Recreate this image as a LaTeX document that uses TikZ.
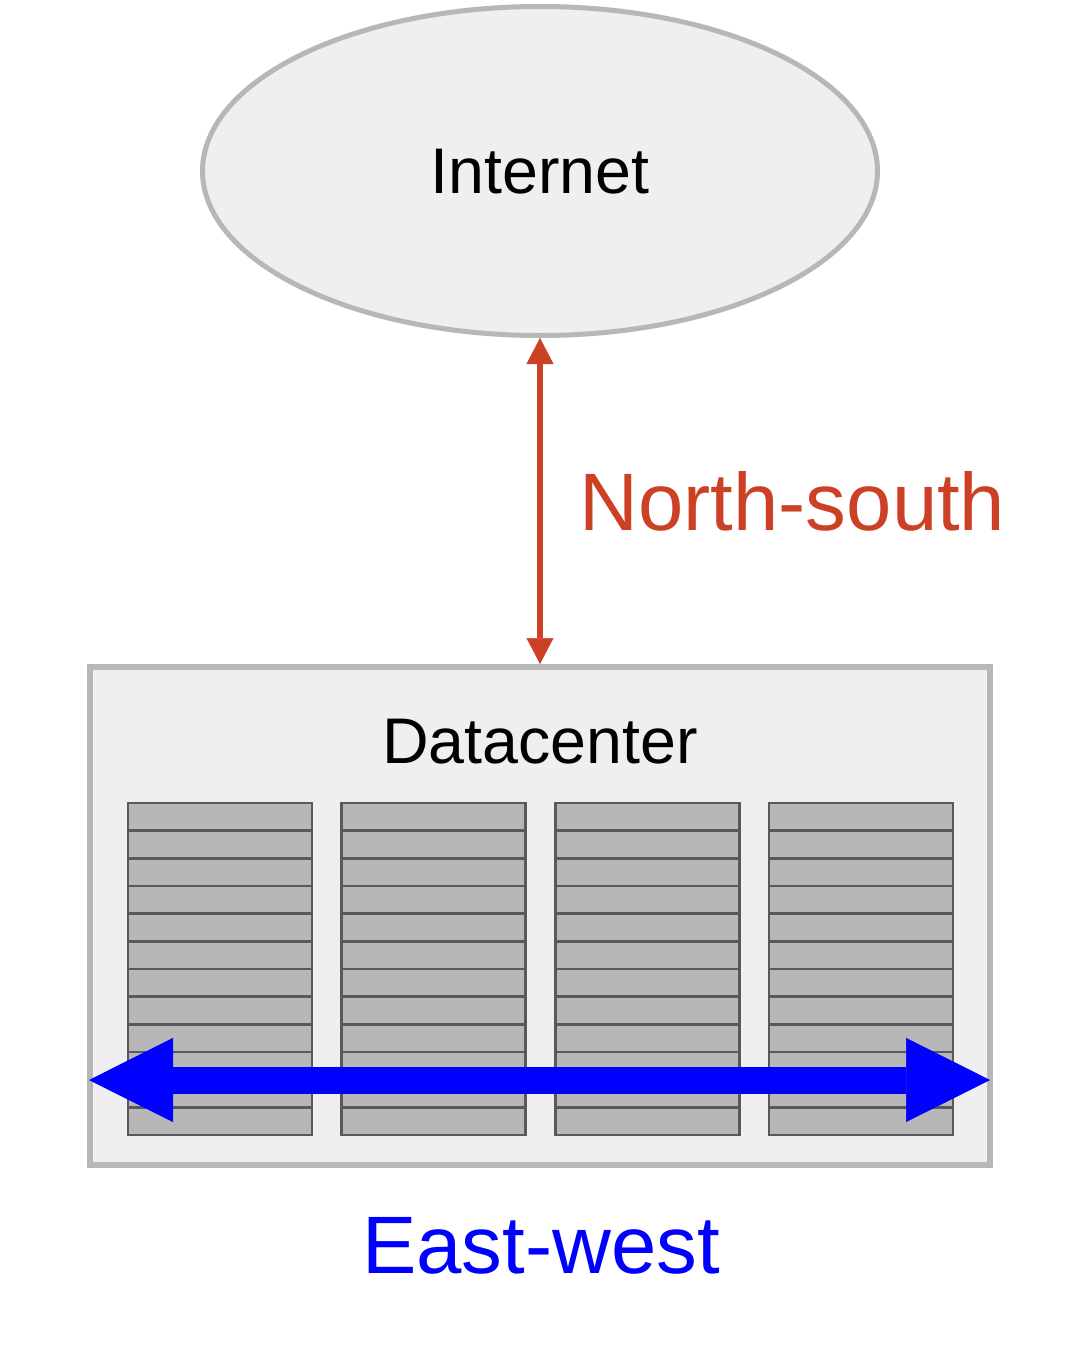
\documentclass[tikz,border=0pt]{standalone}
\usepackage{fontspec}
\setmainfont{Liberation Sans}
\usetikzlibrary{arrows.meta,shapes.geometric}
\definecolor{nsred}{HTML}{CC4125}
\definecolor{ewblue}{HTML}{0000FF}
\definecolor{boxgray}{HTML}{B7B7B7}
\definecolor{boxfill}{HTML}{EFEFEF}
\definecolor{rackline}{HTML}{595959}

\begin{document}
\begin{tikzpicture}[x=1pt,y=-1pt,every node/.style={black},
	bigfont/.style={font=\fontsize{64.5}{70}\selectfont},
	hugefont/.style={font=\fontsize{81.5}{90}\selectfont}]
	\useasboundingbox (0,0) rectangle (1077,1347);

	\node[ellipse,draw=boxgray,fill=boxfill,line width=5pt,minimum width=675pt,minimum height=329pt,inner sep=0pt] (inet) at (540,171) {};
	\node[bigfont,anchor=base] (inetlabel) at (540,193) {Internet};

	\node[rectangle,draw=boxgray,fill=boxfill,line width=6pt,minimum width=900pt,minimum height=498pt,inner sep=0pt] (dc) at (540,916) {};
	\node[bigfont,anchor=base] (dclabel) at (540,763) {Datacenter};

	% racks
	\foreach \i in {0,...,3}{
		\filldraw[fill=boxgray,draw=rackline,line width=2.5pt] (128+213.7*\i,803) rectangle ++(184,332);
		\foreach \j in {1,...,11}
			\draw[rackline,line width=2.5pt] (128+213.7*\i,803+27.67*\j) -- ++(184,0);
	}

	\draw[nsred,line width=6.7pt,{Triangle[length=26pt,width=27pt,line width=0.5pt]}-{Triangle[length=26pt,width=27pt,line width=0.5pt]}] (inet.south)--(dc.north);
	\node[hugefont,anchor=base west,text=nsred] (nslabel) at (576,530) {North-south};

	\coordinate (ewL) at (89,1080);
	\coordinate (ewR) at (990,1080);
	\draw[ewblue,line width=27pt,{Triangle[length=84pt,width=84pt,line width=0.5pt]}-{Triangle[length=84pt,width=84pt,line width=0.5pt]}] (ewL)--(ewR);
	\node[hugefont,anchor=base,text=ewblue] (ewlabel) at (541,1273) {East-west};
\end{tikzpicture}
\end{document}
